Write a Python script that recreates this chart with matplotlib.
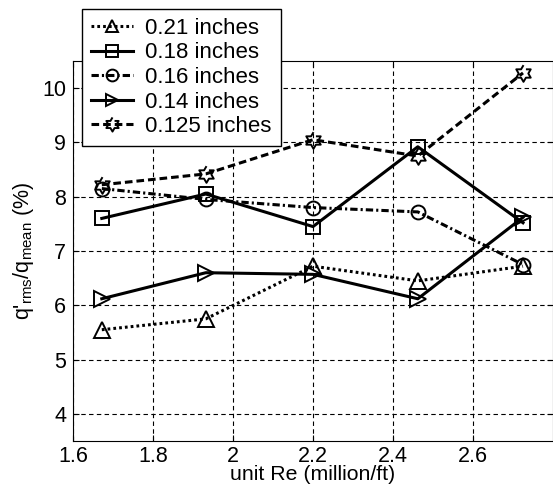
import numpy as np
import matplotlib
matplotlib.use("Agg")
import matplotlib.pyplot as plt

plt.rcParams['font.family'] = ['Liberation Sans', 'DejaVu Sans']
plt.rcParams['mathtext.fontset'] = 'custom'
plt.rcParams['mathtext.rm'] = 'Liberation Sans'

# unit Re (million/ft)
re_unit = [1.672, 1.932, 2.2, 2.462, 2.725]

labels = ['0.21 inches', '0.18 inches', '0.16 inches', '0.14 inches', '0.125 inches']
q_021 = [5.55, 5.75, 6.72, 6.45, 6.72]
q_018 = [7.60, 8.05, 7.45, 8.92, 7.52]
q_016 = [8.15, 7.95, 7.80, 7.72, 6.75]
q_014 = [6.12, 6.60, 6.57, 6.12, 7.62]
q_0125 = [8.22, 8.42, 9.05, 8.75, 10.28]

# six-pointed star (hexagram) marker
ang = np.pi / 2 + np.arange(12) * np.pi / 6
rad = np.where(np.arange(12) % 2 == 0, 1.0, 0.58)
hexagram = list(zip(rad * np.cos(ang), rad * np.sin(ang)))

series = [q_021, q_018, q_016, q_014, q_0125]
markers = ['^', 's', 'o', '>', hexagram]
msizes = [11, 10, 10, 11, 12]
styles = [(0, (0.9, 1.0)), '-', (0, (2.4, 1.0, 0.7, 1.0)), '-', (0, (2.5, 1.3))]

fig = plt.figure(figsize=(5.53, 4.87), dpi=100)
ax = fig.add_axes([73 / 553, 1 - 441 / 487, 480 / 553, 380 / 487])

for vals, lab, mk, ms, ls in zip(series, labels, markers, msizes, styles):
    ax.plot(re_unit, vals, linestyle=ls, color='black', linewidth=2.2,
            marker=mk, markersize=ms, markerfacecolor='none',
            markeredgecolor='black', markeredgewidth=1.4, label=lab)

ax.set_xlim(1.6, 2.8)
ax.set_ylim(3.5, 10.5)
ax.set_xticks([1.6, 1.8, 2.0, 2.2, 2.4, 2.6])
ax.set_xticklabels(['1.6', '1.8', '2', '2.2', '2.4', '2.6'])
ax.set_yticks([4, 5, 6, 7, 8, 9, 10])
ax.tick_params(labelsize=15.5, direction='in', length=4, top=True, right=True, pad=5)
ax.tick_params(axis='x', pad=3.5)
ax.grid(True, color='black', linestyle=(0, (4, 3)), linewidth=0.8)

ax.set_xlabel('unit Re (million/ft)', fontsize=15.3, labelpad=-1)
ax.set_ylabel("q'$_{\\mathregular{rms}}$/q$_{\\mathregular{mean}}$ (%)", fontsize=15.5, labelpad=4)

leg = fig.legend(loc='upper left', bbox_to_anchor=(82 / 553, 1 - 9 / 487),
                 fontsize=16, frameon=True, fancybox=False, edgecolor='black',
                 framealpha=1, handlelength=1.9, borderpad=0.4, labelspacing=0.16,
                 handletextpad=0.55, borderaxespad=0, markerscale=0.85)
leg.get_frame().set_linewidth(1.0)

fig.savefig('out.png', dpi=100)
